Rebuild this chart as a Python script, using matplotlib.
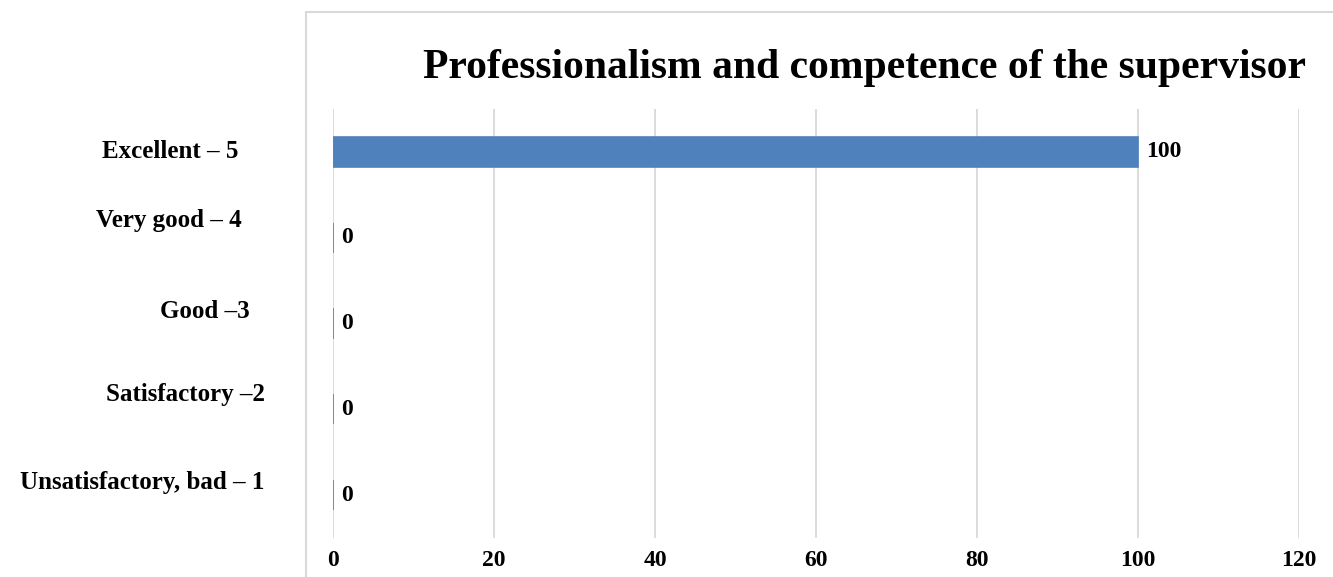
import matplotlib.pyplot as plt
from matplotlib.patches import Rectangle

# Chart data
categories = ['Excellent – 5', 'Very good – 4', 'Good –3', 'Satisfactory –2', 'Unsatisfactory, bad – 1']
values = [100, 0, 0, 0, 0]
x_ticks = [0, 20, 40, 60, 80, 100, 120]

# label placement (figure pixels), the original labels are not aligned
label_x = [170, 169, 205, 186, 142]
label_y = [152, 221, 312, 395, 483]

W, H = 1333, 577
plt.rcParams['font.family'] = ['Liberation Serif', 'DejaVu Serif']
plt.rcParams['font.weight'] = 'bold'

fig = plt.figure(figsize=(W / 100, H / 100), dpi=100)

# light gray frame of the chart area
fig.patches.append(Rectangle((306 / W, -0.1), 1.2, 1 - 12 / H + 0.1, transform=fig.transFigure,
                             fill=False, edgecolor='#d9d9d9', linewidth=1.5))

ax = fig.add_axes([333 / W, 1 - 538 / H, (1299 - 333) / W, (538 - 109) / H])
ypos = list(range(len(categories)))
ax.barh(ypos, values, height=0.35, color='#4f81bd', edgecolor='#4f81bd', linewidth=1.2, zorder=3)
ax.set_ylim(len(categories) - 0.5, -0.5)
ax.set_xlim(0, 120)
ax.set_xticks(x_ticks)
ax.set_xticklabels([str(t) for t in x_ticks], fontsize=17, fontweight='bold')
ax.tick_params(axis='x', length=0, pad=9)
ax.set_yticks([])
ax.grid(axis='x', color='#d9d9d9', linewidth=1.3, zorder=0)
for s in ax.spines.values():
    s.set_visible(False)

# value labels
for y, v in zip(ypos, values):
    ax.annotate(str(v), (v, y), xytext=(6, 0), textcoords='offset points',
                va='center', ha='left', fontsize=17, fontweight='bold')

# category labels
for lab, lx, ly in zip(categories, label_x, label_y):
    fig.text(lx / W, 1 - ly / H, lab, ha='center', va='center', fontsize=18, fontweight='bold')

fig.text(865 / W, 1 - 68 / H, 'Professionalism and competence of the supervisor',
         ha='center', va='center', fontsize=30, fontweight='bold')

fig.savefig('out.png', dpi=100)
